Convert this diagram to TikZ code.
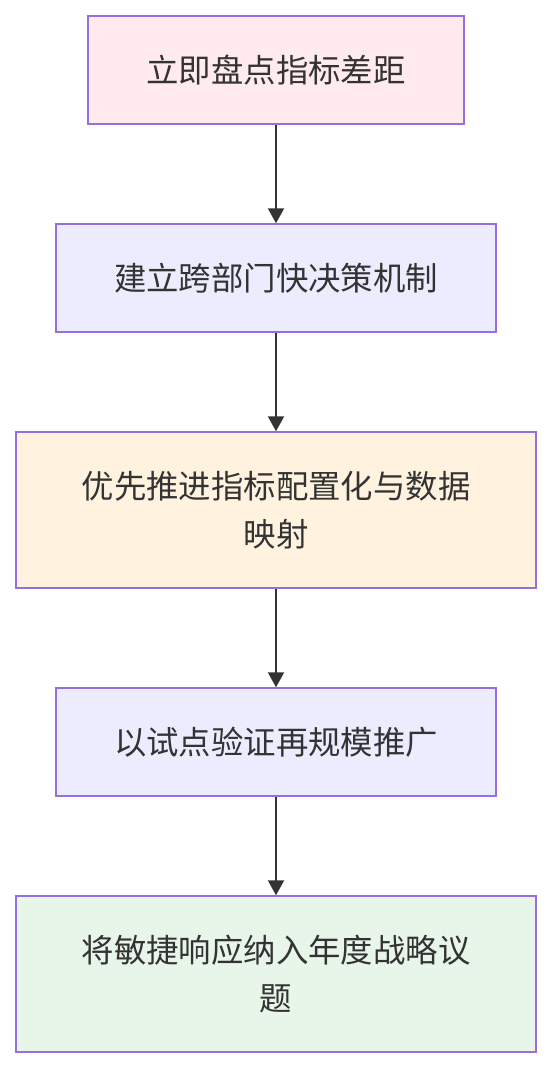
\documentclass[tikz,border=0pt]{standalone}
\usepackage{fontspec}
\setmainfont{Noto Sans CJK SC}
\usetikzlibrary{arrows.meta}
\definecolor{bordc}{HTML}{9370DB}
\definecolor{txtc}{HTML}{333333}
\definecolor{fpink}{HTML}{FFEBEE}
\definecolor{fblue}{HTML}{ECECFF}
\definecolor{forange}{HTML}{FFF3E0}
\definecolor{fgreen}{HTML}{E8F5E9}
\tikzset{
  box/.style={draw=bordc, line width=1.5pt, rectangle, inner sep=0pt, align=center,
    text=txtc, font=\fontsize{32.4}{48}\selectfont},
  conn/.style={draw=txtc, line width=2pt, -{Triangle[width=16pt,length=15pt]}}
}
\begin{document}
\begin{tikzpicture}[x=1pt,y=-1pt]
\useasboundingbox (0,0) rectangle (552,1068);
\node[box, fill=fpink, minimum width=376pt, minimum height=108pt] (a) at (276,70) {立即盘点指标差距};
\node[box, fill=fblue, minimum width=440pt, minimum height=108pt] (b) at (276,278) {建立跨部门快决策机制};
\node[box, fill=forange, minimum width=520pt, minimum height=156pt] (c) at (276,510) {优先推进指标配置化与数据\\映射};
\node[box, fill=fblue, minimum width=440pt, minimum height=108pt] (d) at (276,742) {以试点验证再规模推广};
\node[box, fill=fgreen, minimum width=520pt, minimum height=156pt] (e) at (276,974) {将敏捷响应纳入年度战略议\\题};
\draw[conn] (a) -- (b);
\draw[conn] (b) -- (c);
\draw[conn] (c) -- (d);
\draw[conn] (d) -- (e);
\end{tikzpicture}
\end{document}
